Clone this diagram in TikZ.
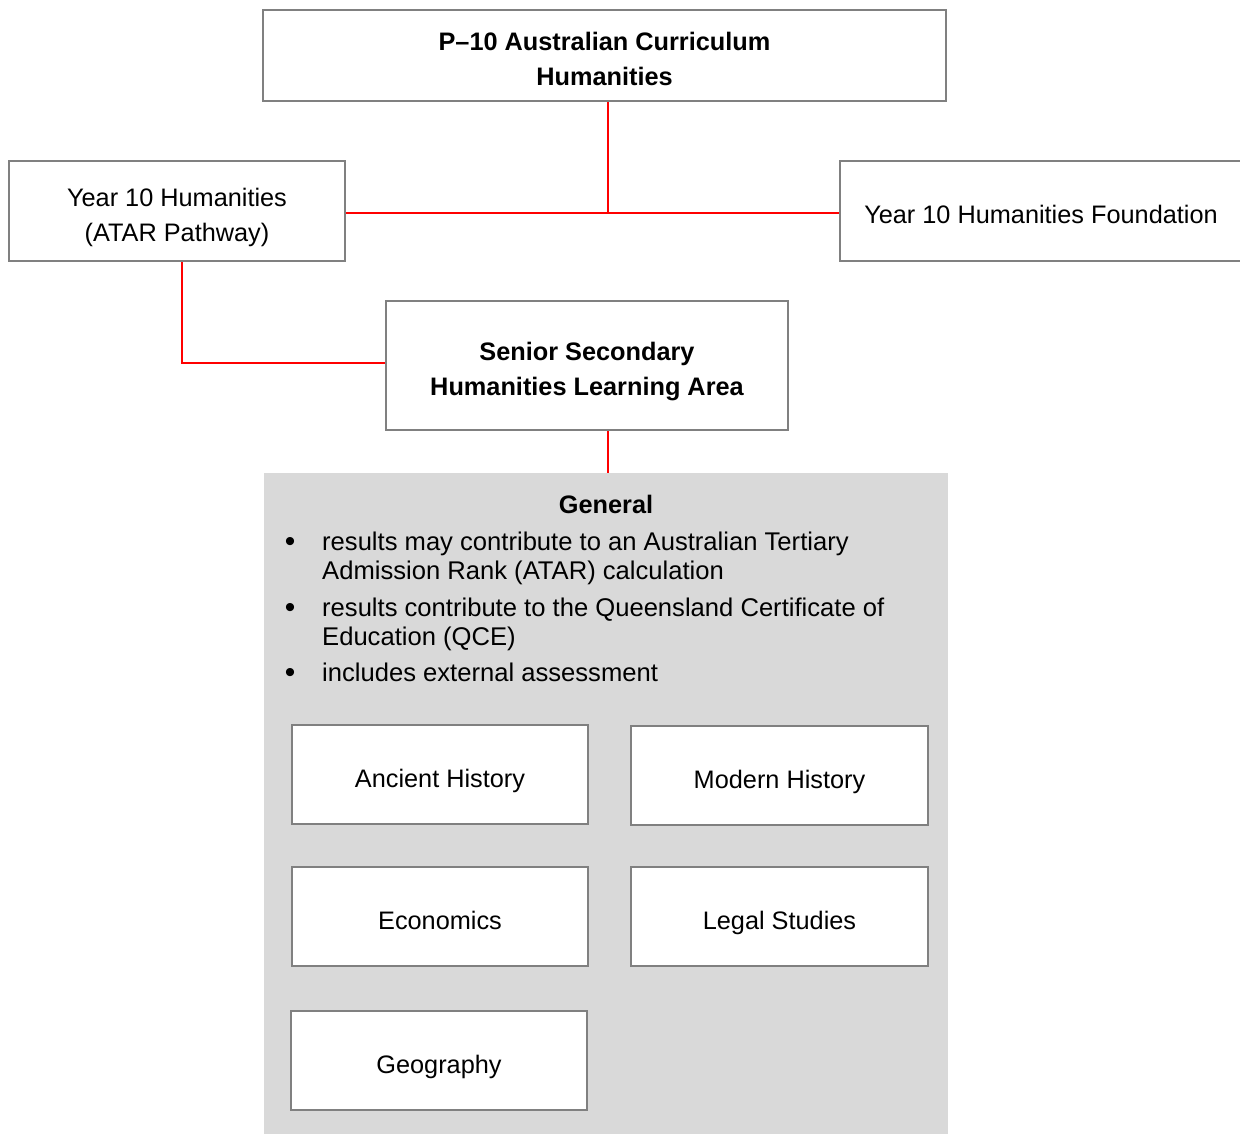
\documentclass[tikz,border=0pt]{standalone}
\usepackage{fontspec}
\setmainfont{Liberation Sans}
\begin{document}
\begin{tikzpicture}[x=1pt,y=-1pt,
  every node/.style={font=\fontsize{25.3}{35}\selectfont},
  gbox/.style={draw=black!50, line width=2.5pt, fill=white, inner sep=0pt, align=center},
  one/.style={text height=26pt, text depth=0pt},
  conn/.style={draw=red, line width=2.5pt},
  bul/.style={anchor=base, inner sep=0pt, font=\fontsize{30}{35}\selectfont},
  ln/.style={anchor=base west, inner sep=0pt, font=\fontsize{25.6}{35}\selectfont}]
\useasboundingbox (0,0) rectangle (1240,1134);
% panel
\node[fill=black!15, minimum width=684pt, minimum height=661pt, inner sep=0pt] (panel) at (606,803.5) {};
% top boxes
\node[gbox, minimum width=683pt, minimum height=91pt, font=\fontsize{25.3}{35}\selectfont\bfseries] (top) at (604.5,55.5) {\rule{0pt}{26pt}P–10 Australian Curriculum\\Humanities};
\node[gbox, minimum width=336pt, minimum height=100pt] (y10) at (177,211) {\rule{0pt}{32pt}Year 10 Humanities\\(ATAR Pathway)};
\node[gbox, one, minimum width=402pt, minimum height=100pt] (y10f) at (1041,211) {Year 10 Humanities Foundation};
\node[gbox, minimum width=402pt, minimum height=129pt, font=\fontsize{25.3}{35}\selectfont\bfseries] (senior) at (587,365.5) {\rule{0pt}{30pt}Senior Secondary\\Humanities Learning Area};
% connectors
\coordinate (j) at (608,213);
\coordinate (k) at (182,363);
\draw[conn] (top.south -| j) -- (j);
\draw[conn] (y10.east |- j) -- (y10f.west |- j);
\draw[conn] (y10.south -| k) |- (senior.west |- k);
\draw[conn] (senior.south -| j) -- (panel.north -| j);
% general text
\node[font=\fontsize{25.3}{35}\selectfont\bfseries, anchor=base, inner sep=0pt] (gen) at (606,513) {General};
\node[bul] (d1) at (290,551) {•};
\node[ln] (t1a) at (322,550) {results may contribute to an Australian Tertiary};
\node[ln] (t1b) at (322,579) {Admission Rank (ATAR) calculation};
\node[bul] (d2) at (290,617) {•};
\node[ln] (t2a) at (322,616) {results contribute to the Queensland Certificate of};
\node[ln] (t2b) at (322,645) {Education (QCE)};
\node[bul] (d3) at (290,682) {•};
\node[ln] (t3a) at (322,681) {includes external assessment};
% subjects
\node[gbox, one, minimum width=296pt, minimum height=99pt] (anc) at (440,774.5) {Ancient History};
\node[gbox, one, minimum width=297pt, minimum height=99pt] (mod) at (779.5,775.5) {Modern History};
\node[gbox, one, minimum width=296pt, minimum height=99pt] (eco) at (440,916.5) {Economics};
\node[gbox, one, minimum width=297pt, minimum height=99pt] (leg) at (779.5,916.5) {Legal Studies};
\node[gbox, one, minimum width=296pt, minimum height=99pt] (geo) at (439,1060.5) {Geography};
\end{tikzpicture}
\end{document}
